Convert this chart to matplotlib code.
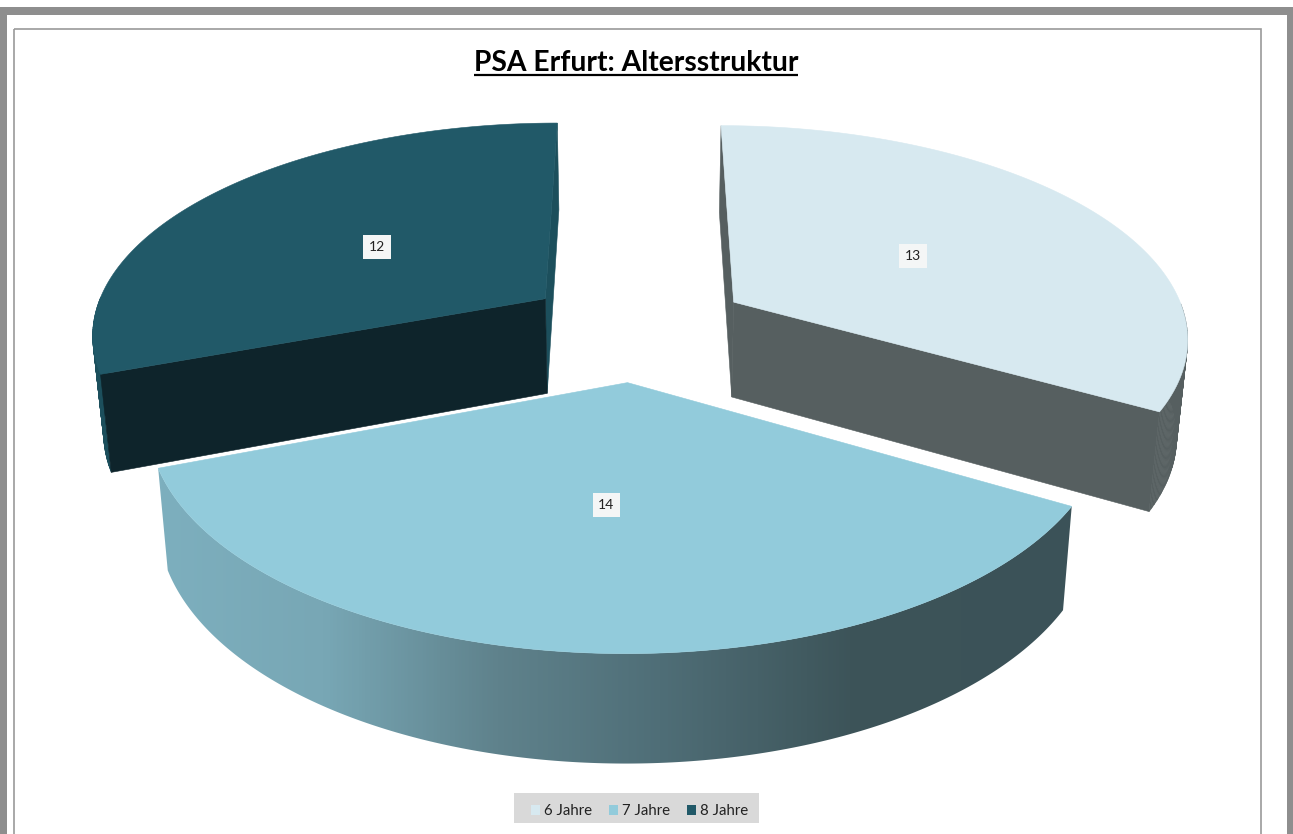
import numpy as np
import matplotlib
matplotlib.use('Agg')
import matplotlib.pyplot as plt
from matplotlib.collections import PolyCollection
from matplotlib.colors import LinearSegmentedColormap
from matplotlib.patches import Patch, Polygon, Rectangle

plt.rcParams['font.family'] = ['Lato', 'DejaVu Sans']

# --- DATA ---
categories = ['6 Jahre', '7 Jahre', '8 Jahre']
values = [13, 14, 12]
title = 'PSA Erfurt: Altersstruktur'

top_colors = ['#D7E9F0', '#92CBDB', '#215968']
side_colors = ['#565F60', None, '#0E242B']
rim_colors = ['#565F60', None, '#1C4F5C']
gradient = [(0, '#7DAFBE'), (0.18, '#78A7B5'), (0.37, '#5F828C'), (0.55, '#4F6E77'), (0.76, '#3D5459'), (1, '#3B5258')]

# --- PROJECTION (pie plane to pixels, with perspective) ---
CX, VY = 637, -1050
AX, BY, K = 455, 1378, 0.153
EXPLODE = 0.25
LABEL_R = 0.49
LABEL_DROP = 2
DEPTH = 96
SHRINK = 0.98


def project(x, y):
    s = 1 / (1 + K * y)
    return CX + AX * x * s, VY + BY * s, s


def project_low(x, y):
    sx, sy, s = project(x, y)
    return CX + (sx - CX) * SHRINK, sy + DEPTH * s ** 0.64


fig = plt.figure(figsize=(12.93, 8.34), dpi=100)
ax = fig.add_axes([0, 0, 1, 1])
ax.axis('off')

# --- SLICES ---
fracs = np.array(values) / sum(values)
ends = np.cumsum(fracs) * 2 * np.pi
starts = ends - fracs * 2 * np.pi
cmap = LinearSegmentedColormap.from_list('side', gradient)

# back slices first, front slice last
for i in [2, 0, 1]:
    a0, a1 = starts[i], ends[i]
    mid = (a0 + a1) / 2
    ox, oy = EXPLODE * np.sin(mid), EXPLODE * np.cos(mid)
    ang = np.linspace(a0, a1, 200)
    ex, ey = ox + np.sin(ang), oy + np.cos(ang)

    top_x, top_y, _ = project(ex, ey)
    low_x, low_y = project_low(ex, ey)
    apex_x, apex_y, _ = project(ox, oy)
    apex_lx, apex_ly = project_low(ox, oy)

    if side_colors[i] is None:
        # outer wall with the metallic gradient
        wall = np.column_stack([np.r_[top_x, low_x[::-1]], np.r_[top_y, low_y[::-1]]])
        patch = Polygon(wall, fc='none', ec='none')
        ax.add_patch(patch)
        ramp = np.linspace(0, 1, 600).reshape(1, -1)
        im = ax.imshow(ramp, cmap=cmap, aspect='auto', extent=(top_x.min(), top_x.max(), 800, 400))
        im.set_clip_path(patch)
    else:
        # only the front part of the rim can be seen
        quads = [[(top_x[j], top_y[j]), (top_x[j + 1], top_y[j + 1]),
                  (low_x[j + 1], low_y[j + 1]), (low_x[j], low_y[j])]
                 for j in range(len(ang) - 1) if np.cos(ang[j]) < 0]
        ax.add_collection(PolyCollection(quads, facecolors=rim_colors[i], edgecolors=rim_colors[i], linewidths=0.4))
        for k, col in [(-1, rim_colors[i]), (0, side_colors[i])]:
            face = [(apex_x, apex_y), (top_x[k], top_y[k]), (low_x[k], low_y[k]), (apex_lx, apex_ly)]
            ax.add_patch(Polygon(face, fc=col, ec=col, lw=0.4))

    outline = np.column_stack([np.r_[apex_x, top_x], np.r_[apex_y, top_y]])
    ax.add_patch(Polygon(outline, fc=top_colors[i], ec=top_colors[i], lw=0.4, zorder=2))

    lx, ly, _ = project(ox + LABEL_R * np.sin(mid), oy + LABEL_R * np.cos(mid))
    ax.text(lx, ly + LABEL_DROP, str(values[i]), ha='center', va='center', fontsize=10, color='#222222',
            bbox=dict(boxstyle='square,pad=0.42', fc='#F4F6F6', ec='none'), zorder=5)

ax.set_xlim(0, 1293)
ax.set_ylim(834, 0)

# --- FRAME ---
border = '#8E8E8E'
ax.add_patch(Rectangle((0, 7), 1293, 8, fc=border, ec='none'))
ax.add_patch(Rectangle((0, 7), 6.5, 827, fc=border, ec='none'))
ax.add_patch(Rectangle((1287, 7), 6, 827, fc=border, ec='none'))
ax.add_patch(Rectangle((13.5, 28.5), 1247, 820, fc='none', ec='#9A9A9A', lw=1.2))

# --- TITLE ---
t = ax.text(636, 62.5, title, ha='center', va='center', fontsize=20.3, fontweight='bold', color='black')
fig.canvas.draw()
bb = t.get_window_extent()
ax.plot([bb.x0, bb.x1], [75, 75], color='black', lw=1.6, solid_capstyle='butt')

# --- LEGEND ---
ax.add_patch(Rectangle((514, 793), 245, 30, fc='#D9D9D9', ec='none'))
handles = [Patch(fc=c, ec='none', label=n) for c, n in zip(top_colors, categories)]
ax.legend(handles=handles, loc='center', bbox_to_anchor=(639.5, 811), bbox_transform=ax.transData,
          ncol=3, frameon=False, fontsize=10.8, handlelength=0.62, handleheight=0.62, handletextpad=0.25,
          columnspacing=1.12, labelcolor='#222222', borderpad=0, borderaxespad=0)

plt.savefig('out.png', dpi=100)
plt.close()
